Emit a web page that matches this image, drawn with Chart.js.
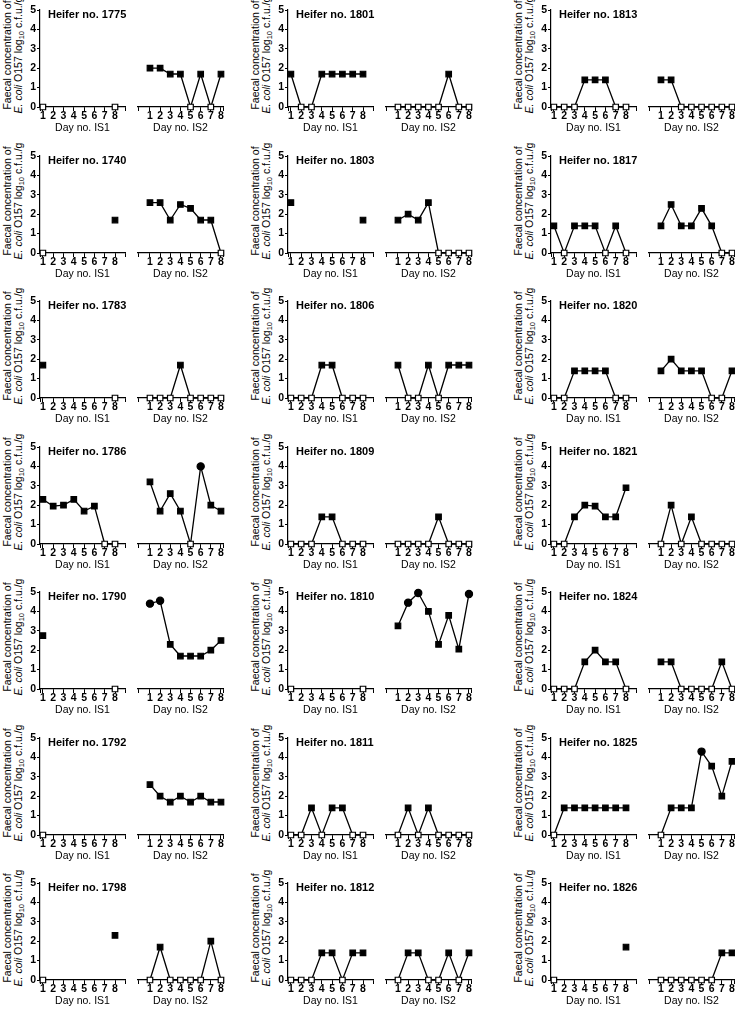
<!DOCTYPE html>
<html>
<head>
<meta charset="utf-8">
<script src="https://cdn.jsdelivr.net/npm/chart.js@4.4.1/dist/chart.umd.min.js"></script>
<style>
body { margin: 0; background: #fff; width: 735px; height: 1016px; overflow: hidden; position: relative;
       font-family: "Liberation Sans", Arial, Helvetica, sans-serif; color: #000; }
canvas, .lab, .ytitle { position: absolute; }
.lab { font-weight: bold; font-size: 11px; line-height: 12px; white-space: nowrap; }
.ytitle { font-size: 10.5px; line-height: 11px; text-align: center; white-space: nowrap;
          transform: translate(-50%, -50%) rotate(-90deg); }
.ytitle sub { font-size: 7.5px; line-height: 0; vertical-align: -2px; }
</style>
</head>
<body>
<script>
const days = [1, 2, 3, 4, 5, 6, 7, 8];
const yTicks = [0, 1, 2, 3, 4, 5];
const periods = ['Day no. IS1', 'Day no. IS2'];

const heifers = ['1775', '1801', '1813', '1740', '1803', '1817', '1783', '1806', '1820',
                 '1786', '1809', '1821', '1790', '1810', '1824', '1792', '1811', '1825',
                 '1798', '1812', '1826'];

// log10 c.f.u./g per day, null = no sample
const is1 = [
  [0, null, null, null, null, null, null, 0],
  [1.7, 0, 0, 1.7, 1.7, 1.7, 1.7, 1.7],
  [0, 0, 0, 1.4, 1.4, 1.4, 0, 0],
  [0, null, null, null, null, null, null, 1.7],
  [2.6, null, null, null, null, null, null, 1.7],
  [1.4, 0, 1.4, 1.4, 1.4, 0, 1.4, 0],
  [1.7, null, null, null, null, null, null, 0],
  [0, 0, 0, 1.7, 1.7, 0, 0, 0],
  [0, 0, 1.4, 1.4, 1.4, 1.4, 0, 0],
  [2.3, 1.95, 2.0, 2.3, 1.7, 1.95, 0, 0],
  [0, 0, 0, 1.4, 1.4, 0, 0, 0],
  [0, 0, 1.4, 2.0, 1.95, 1.4, 1.4, 2.9],
  [2.75, null, null, null, null, null, null, 0],
  [0, null, null, null, null, null, null, 0],
  [0, 0, 0, 1.4, 2.0, 1.4, 1.4, 0],
  [0, null, null, null, null, null, null, null],
  [0, 0, 1.4, 0, 1.4, 1.4, 0, 0],
  [0, 1.4, 1.4, 1.4, 1.4, 1.4, 1.4, 1.4],
  [0, null, null, null, null, null, null, 2.3],
  [0, 0, 0, 1.4, 1.4, 0, 1.4, 1.4],
  [0, null, null, null, null, null, null, 1.7]
];

const is2 = [
  [2.0, 2.0, 1.7, 1.7, 0, 1.7, 0, 1.7],
  [0, 0, 0, 0, 0, 1.7, 0, 0],
  [1.4, 1.4, 0, 0, 0, 0, 0, 0],
  [2.6, 2.6, 1.7, 2.5, 2.3, 1.7, 1.7, 0],
  [1.7, 2.0, 1.7, 2.6, 0, 0, 0, 0],
  [1.4, 2.5, 1.4, 1.4, 2.3, 1.4, 0, 0],
  [0, 0, 0, 1.7, 0, 0, 0, 0],
  [1.7, 0, 0, 1.7, 0, 1.7, 1.7, 1.7],
  [1.4, 2.0, 1.4, 1.4, 1.4, 0, 0, 1.4],
  [3.2, 1.7, 2.6, 1.7, 0, 4.0, 2.0, 1.7],
  [0, 0, 0, 0, 1.4, 0, 0, 0],
  [0, 2.0, 0, 1.4, 0, 0, 0, 0],
  [4.4, 4.55, 2.3, 1.7, 1.7, 1.7, 2.0, 2.5],
  [3.25, 4.45, 4.95, 4.0, 2.3, 3.8, 2.05, 4.9],
  [1.4, 1.4, 0, 0, 0, 0, 1.4, 0],
  [2.6, 2.0, 1.7, 2.0, 1.7, 2.0, 1.7, 1.7],
  [0, 1.4, 0, 1.4, 0, 0, 0, 0],
  [0, 1.4, 1.4, 1.4, 4.3, 3.55, 2.0, 3.8],
  [0, 1.7, 0, 0, 0, 0, 2.0, 0],
  [0, 1.4, 1.4, 0, 0, 1.4, 0, 1.4],
  [0, 0, 0, 0, 0, 0, 1.4, 1.4]
];

// IS2 days drawn with a round marker
const circleDays = [['1786', 6], ['1790', 1], ['1790', 2], ['1810', 2], ['1810', 3], ['1810', 8], ['1825', 5]];

const FONT = '"Liberation Sans", Arial, Helvetica, sans-serif';
const colX = [40, 288, 551];
const rowTop = [10, 155.5, 301, 446.5, 592, 737.5, 883];
const plotH = 97, plotW = 85, is2Gap = 98;

function addChart(left, top, values, first, title, rounds) {
  const padL = first ? 24 : 6, padR = 6;
  const cv = document.createElement('canvas');
  cv.width = padL + plotW + padR;
  cv.height = 8 + plotH + 32;
  cv.style.left = (left - padL) + 'px';
  cv.style.top = (top - 8) + 'px';
  document.body.appendChild(cv);

  const xMin = first ? 0.72 : -0.18;
  const xMax = first ? 8.97 : 8.2;

  new Chart(cv, {
    type: 'line',
    data: {
      datasets: [{
        data: days.map((d, k) => ({ x: d, y: values[k] })),
        borderColor: '#000',
        borderWidth: 1.3,
        tension: 0,
        spanGaps: false,
        clip: false,
        pointStyle: c => rounds.includes(days[c.dataIndex]) ? 'circle' : 'rect',
        pointRadius: c => rounds.includes(days[c.dataIndex]) ? 3.6 : 3.9,
        pointBackgroundColor: c => (c.raw && c.raw.y === 0) ? '#fff' : '#000',
        pointBorderColor: '#000',
        pointBorderWidth: 1.2
      }]
    },
    options: {
      responsive: false,
      animation: false,
      devicePixelRatio: 1,
      layout: { padding: { left: first ? 0 : padL, right: padR, top: 8, bottom: 0 } },
      plugins: { legend: { display: false }, tooltip: { enabled: false } },
      scales: {
        x: {
          type: 'linear',
          min: xMin,
          max: xMax,
          afterBuildTicks: s => { s.ticks = [xMin].concat(days, [xMax]).map(v => ({ value: v })); },
          afterFit: s => { s.height = 32; },
          grid: { drawOnChartArea: false, drawTicks: true, tickLength: 4, color: '#000', lineWidth: 1 },
          border: { display: true, color: '#000', width: 1.2 },
          ticks: {
            autoSkip: false, maxRotation: 0, padding: 0, color: '#000',
            font: { family: FONT, size: 10.5, weight: 'bold', lineHeight: 1 },
            callback: v => days.includes(v) ? String(v) : ''
          },
          title: { display: true, text: title, color: '#000',
                   font: { family: FONT, size: 10.5 }, padding: { top: 0, bottom: 4.5 } }
        },
        y: {
          display: first,
          min: 0,
          max: 5,
          afterBuildTicks: s => { s.ticks = yTicks.map(v => ({ value: v })); },
          afterFit: s => { s.width = first ? 24 : 0; },
          grid: { drawOnChartArea: false, drawTicks: true, tickLength: 3, color: '#000', lineWidth: 1 },
          border: { display: true, color: '#000', width: 1.2 },
          ticks: { padding: 1, color: '#000', font: { family: FONT, size: 10.5, weight: 'bold' } }
        }
      }
    }
  });
}

heifers.forEach((h, i) => {
  const ax = colX[i % 3];
  const top = rowTop[Math.floor(i / 3)];
  const rounds = circleDays.filter(c => c[0] === h).map(c => c[1]);

  const yt = document.createElement('div');
  yt.className = 'ytitle';
  yt.innerHTML = 'Faecal concentration of<br><i>E. coli</i> O157 log<sub>10</sub> c.f.u./g';
  yt.style.left = (ax - 27) + 'px';
  yt.style.top = (top + 45) + 'px';
  document.body.appendChild(yt);

  addChart(ax, top, is1[i], true, periods[0], []);
  addChart(ax + is2Gap, top, is2[i], false, periods[1], rounds);

  const lab = document.createElement('div');
  lab.className = 'lab';
  lab.textContent = 'Heifer no. ' + h;
  lab.style.left = (ax + 8) + 'px';
  lab.style.top = (top - 2) + 'px';
  document.body.appendChild(lab);
});
</script>
</body>
</html>
